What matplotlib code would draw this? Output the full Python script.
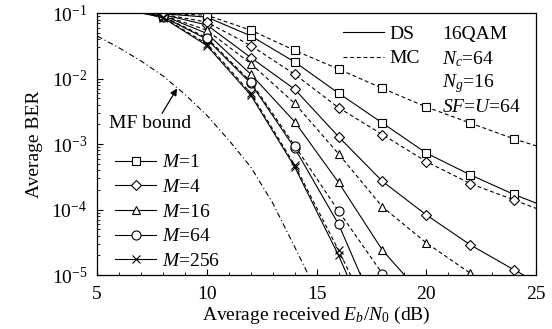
import numpy as np
import matplotlib.pyplot as plt
from matplotlib.lines import Line2D

plt.rcParams['font.family'] = 'Liberation Serif'
plt.rcParams['mathtext.fontset'] = 'custom'
plt.rcParams['mathtext.rm'] = 'Liberation Serif'
plt.rcParams['mathtext.it'] = 'Liberation Serif:italic'
plt.rcParams['font.size'] = 14

snr = [6, 8, 10, 12, 14, 16, 18, 20, 22, 24, 26]

ds_m1 = [0.14, 0.098, 0.087, 0.045, 0.018, 0.006, 0.0021, 7.3e-4, 3.4e-4, 1.7e-4, 9.3e-5]
mc_m1 = [0.14, 0.099, 0.093, 0.055, 0.027, 0.014, 0.0071, 0.0037, 0.0021, 0.0012, 7.4e-4]
ds_m4 = [0.13, 0.095, 0.066, 0.021, 0.0069, 0.0013, 2.7e-4, 8.3e-5, 2.9e-5, 1.2e-5, 5.2e-6]
mc_m4 = [0.13, 0.096, 0.073, 0.032, 0.0117, 0.0036, 0.0014, 5.4e-4, 2.5e-4, 1.4e-4, 7.8e-5]
ds_m16 = [0.13, 0.092, 0.049, 0.0117, 0.0022, 2.6e-4, 2.4e-5, 4.2e-6]
mc_m16 = [0.13, 0.093, 0.055, 0.017, 0.0042, 7.1e-4, 1.1e-4, 3.1e-5, 1.07e-5, 1.5e-6]
ds_m64 = [0.12, 0.088, 0.040, 0.0085, 8.7e-4, 6.0e-5, 1.7e-6]
mc_m64 = [0.12, 0.089, 0.042, 0.009, 9.5e-4, 9.5e-5, 1.05e-5, 1e-6]
ds_m256 = [0.12, 0.085, 0.032, 0.0056, 4.5e-4, 2.0e-5, 6e-7]
mc_m256 = [0.12, 0.086, 0.034, 0.006, 4.8e-4, 2.4e-5, 1e-6]

mf_snr = [5, 6, 7, 8, 9, 10, 11, 12, 13, 14, 15]
mf_ber = [0.0447, 0.0295, 0.0186, 0.011, 5.75e-3, 2.75e-3, 1.15e-3, 4.47e-4, 1.26e-4, 2.7e-5, 5.6e-6]

labels = ['$M$=1', '$M$=4', '$M$=16', '$M$=64', '$M$=256']
markers = ['s', 'D', '^', 'o', 'x']
msizes = [6, 5, 6, 6.5, 6]
ds_all = [ds_m1, ds_m4, ds_m16, ds_m64, ds_m256]
mc_all = [mc_m1, mc_m4, mc_m16, mc_m64, mc_m256]

fig = plt.figure(figsize=(5.52, 3.29), dpi=100)
ax = fig.add_axes([0.176, 0.164, 0.795, 0.796])

dash = (0, (3.5, 2.5))
handles = []
for ds, mc, mk, ms, lab in zip(ds_all, mc_all, markers, msizes, labels):
    kw = dict(color='black', marker=mk, markersize=ms, markerfacecolor='white',
              markeredgecolor='black', markeredgewidth=0.8, linewidth=0.8)
    h, = ax.plot(snr[:len(ds)], ds, linestyle='-', label=lab, **kw)
    ax.plot(snr[:len(mc)], mc, linestyle=dash, **kw)
    handles.append(h)

ax.plot(mf_snr, mf_ber, color='black', linewidth=0.8, linestyle=(0, (5, 2.5, 1, 2.5)))

ax.set_yscale('log')
ax.set_xlim(5, 25)
ax.set_ylim(1e-5, 1e-1)
ax.set_xticks([5, 10, 15, 20, 25])
ax.set_xticks(np.arange(5, 26, 1), minor=True)
ax.tick_params(which='both', direction='in', top=False, right=False)
ax.tick_params(which='major', length=4)
ax.tick_params(which='minor', length=2)
ax.tick_params(axis='y', which='major', pad=7)
ax.tick_params(axis='x', which='major', pad=8)
for s in ax.spines.values():
    s.set_linewidth(0.9)

ax.set_xlabel('Average received $E_b/N_0$ (dB)', labelpad=1)
ax.set_ylabel('Average BER', labelpad=6)

leg1 = ax.legend(handles=handles, loc='lower left', frameon=False,
                 handlelength=2.1, handletextpad=0.3, labelspacing=0.36,
                 borderaxespad=0.2, bbox_to_anchor=(0.015, -0.025))
ax.add_artist(leg1)

ds_h = Line2D([], [], color='black', linewidth=0.8, linestyle='-')
mc_h = Line2D([], [], color='black', linewidth=0.8, linestyle=dash)
ax.legend([ds_h, mc_h], ['DS', 'MC'], loc='upper left', frameon=False,
          bbox_to_anchor=(0.52, 1.02), handlelength=2.1, handletextpad=0.3,
          labelspacing=0.35)

ax.text(0.786, 0.92, '16QAM', transform=ax.transAxes, va='center', ha='left')
ax.text(0.786, 0.825, '$N_c$=64', transform=ax.transAxes, va='center', ha='left')
ax.text(0.786, 0.73, '$N_g$=16', transform=ax.transAxes, va='center', ha='left')
ax.text(0.786, 0.64, '$SF$=$U$=64', transform=ax.transAxes, va='center', ha='left')

ax.text(7.4, 10**-2.68, 'MF bound', ha='center', va='center')
ax.annotate('', xy=(8.64, 10**-2.15), xytext=(7.96, 10**-2.53),
            arrowprops=dict(arrowstyle='-|>', color='black', linewidth=0.9,
                            mutation_scale=10, shrinkA=0, shrinkB=0))

fig.savefig('out.png', dpi=100)
